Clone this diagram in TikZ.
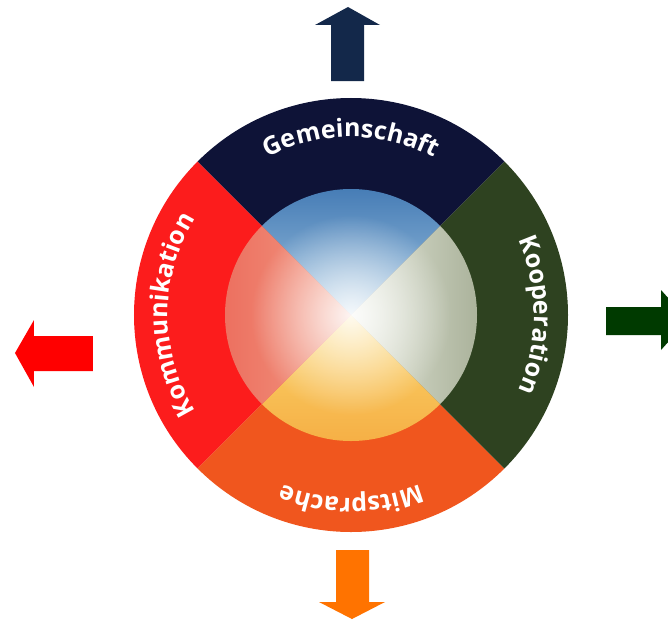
\documentclass[tikz,border=0pt]{standalone}
\usepackage{fontspec}
\newfontfamily\bandfont{Open Sans}
\usetikzlibrary{decorations.text,fadings}

\definecolor{bandnavy}{HTML}{0E1337}
\definecolor{bandgreen}{HTML}{2E4220}
\definecolor{bandred}{HTML}{FC1C1C}
\definecolor{bandorange}{HTML}{F0561E}
\definecolor{arrownavy}{HTML}{13284A}
\definecolor{arrowgreen}{HTML}{003A00}
\definecolor{arrowred}{HTML}{FF0000}
\definecolor{arroworange}{HTML}{FF7300}

\tikzfading[name=glow, inner color=transparent!10, outer color=transparent!100]

\newcommand\bandtext{\bandfont\bfseries\fontsize{25}{29}\selectfont}

\tikzset{
  bandlabel/.style={decorate, decoration={text along path, text align=center, text color=white}},
}

\begin{document}
\begin{tikzpicture}[x=1pt,y=1pt]
  \useasboundingbox (-351,-304) rectangle (317,315);
  \coordinate (M) at (0,0);
  % outer ring
  \fill[bandnavy] (M) -- (45:217pt) arc[start angle=45, end angle=135, radius=217pt] -- cycle;
  \fill[bandred] (M) -- (135:217pt) arc[start angle=135, end angle=225, radius=217pt] -- cycle;
  \fill[bandorange] (M) -- (225:217pt) arc[start angle=225, end angle=315, radius=217pt] -- cycle;
  \fill[bandgreen] (M) -- (-45:217pt) arc[start angle=-45, end angle=45, radius=217pt] -- cycle;
  % inner disc
  \shade[top color={rgb,255:red,62;green,118;blue,178}, bottom color={rgb,255:red,160;green,196;blue,224}]
    (M) -- (45:126pt) arc[start angle=45, end angle=135, radius=126pt] -- cycle;
  \shade[left color={rgb,255:red,226;green,230;blue,216}, right color={rgb,255:red,166;green,174;blue,150}]
    (M) -- (-45:126pt) arc[start angle=-45, end angle=45, radius=126pt] -- cycle;
  \shade[top color={rgb,255:red,251;green,214;blue,108}, bottom color={rgb,255:red,245;green,172;blue,66}]
    (M) -- (225:126pt) arc[start angle=225, end angle=315, radius=126pt] -- cycle;
  \shade[left color={rgb,255:red,236;green,108;blue,92}, right color={rgb,255:red,242;green,156;blue,134}]
    (M) -- (135:126pt) arc[start angle=135, end angle=225, radius=126pt] -- cycle;
  \fill[white, path fading=glow] (M) circle[radius=100pt];
  % labels
  \path[bandlabel, decoration={text={|\bandtext|Gemeinschaft}}]
    (150:178pt) arc[start angle=150, end angle=30, radius=178pt];
  \path[bandlabel, decoration={text={|\bandtext|Kooperation}}]
    (60:183pt) arc[start angle=60, end angle=-60, radius=183pt];
  \path[bandlabel, decoration={text={|\bandtext|Mitsprache}}]
    (-30:183pt) arc[start angle=-30, end angle=-150, radius=183pt];
  \path[bandlabel, decoration={text={|\bandtext|Kommunikation}}]
    (240:183pt) arc[start angle=240, end angle=120, radius=183pt];
  % arrows
  \fill[arrownavy]
    (-20,234) -- (-20,290) -- (-36,290) -- (-3,308) -- (29,290) -- (13,290) -- (13,234) -- cycle;
  \fill[arrowgreen]
    (255,8) -- (310,8) -- (310,25) -- (337,-5) -- (310,-35) -- (310,-20) -- (255,-20) -- cycle;
  \fill[arrowred]
    (-258,-21) -- (-317,-21) -- (-317,-5) -- (-336,-38) -- (-317,-72) -- (-317,-56) -- (-258,-56) -- cycle;
  \fill[arroworange]
    (-15,-235) -- (-15,-287) -- (-32,-287) -- (1,-304) -- (34,-287) -- (18,-287) -- (18,-235) -- cycle;
\end{tikzpicture}
\end{document}
